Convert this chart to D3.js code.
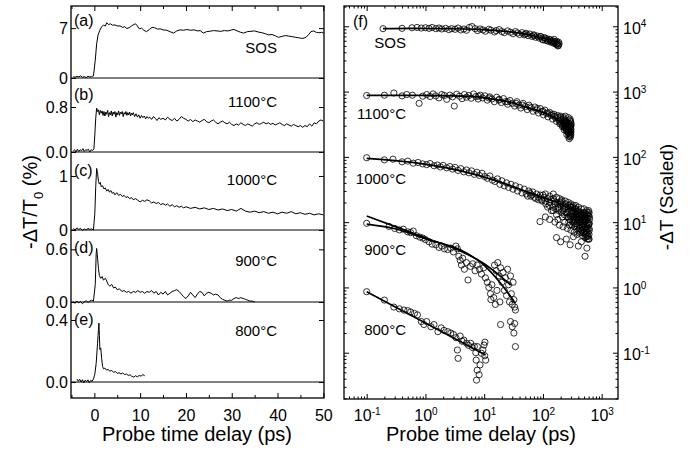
<!DOCTYPE html>
<html>
<head>
<meta charset="utf-8">
<script src="https://cdn.jsdelivr.net/npm/d3@7"></script>
<style>
body { margin: 0; background: #fff; }
svg { font-family: "Liberation Sans", Arial, sans-serif; }
</style>
</head>
<body>
<svg id="chart" width="694" height="453"></svg>
<script>
// ---- left panels: -dT/T0 (%) vs probe delay (ps), [t, value]
var sosTrace = [[-4.6,0.2],[-4.2,0.1],[-3.8,0.25],[-3.4,0.15],[-3,0.3],[-2.6,0.1],[-2.2,0.2],[-1.8,0.05],[-1.4,0.25],[-1,0.15],[-0.6,0.2],[-0.2,0.3],
  [0.2,2.5],[0.5,4.8],[0.8,6.0],[1.2,6.7],[1.6,7.2],[2.0,7.4],[2.4,7.3],[2.7,7.75],[3.1,7.5],[3.5,7.6],[4.0,7.4],[4.5,7.45],[5.0,7.3],[5.6,7.3],
  [6.2,7.1],[6.6,7.2],[7.1,6.95],[7.6,7.05],[8.1,7.3],[8.6,7.5],[9.0,7.6],[9.4,7.3],[9.8,6.9],[10.3,7.0],[10.8,6.7],[11.4,6.5],[12,6.8],[12.6,7.1],
  [13.2,7.05],[13.8,6.85],[14.4,6.9],[15,6.75],[15.8,6.7],[16.5,6.5],[17.3,6.3],[18,6.6],[18.7,6.75],[19.4,6.7],[20.2,6.8],[21,6.7],[21.8,6.75],
  [22.6,6.6],[23.1,6.65],[23.8,6.3],[24.5,6.5],[25.2,6.55],[26,6.65],[26.8,6.6],[27.6,6.55],[28.4,6.65],[29.2,6.6],[30,6.75],[30.5,6.8],[31.2,6.6],
  [32,6.4],[32.6,6.3],[33.4,6.5],[34.2,6.55],[35,6.6],[35.8,6.45],[36.6,6.35],[37.4,6.2],[38,6.05],[38.8,6.1],[39.6,5.9],[40.2,5.7],[41,5.85],
  [41.8,5.95],[42.4,5.88],[43.2,5.8],[44,5.7],[44.6,5.65],[45.3,5.55],[45.8,5.6],[46.3,5.75],[46.8,6.1],[47.3,6.5],[47.9,6.6],[48.5,6.4],[49,6.35],
  [49.6,6.4],[50.1,6.3]];
var trace1100 = [[-4.6,0.02],[-4.3,0.04],[-4,0.0],[-3.7,0.05],[-3.4,0.01],[-3.1,0.04],[-2.8,0.02],[-2.5,0.06],[-2.2,0.01],[-1.9,0.04],[-1.6,0.03],
  [-1.3,0.05],[-1.0,0.0],[-0.7,0.04],[-0.4,0.03],[-0.1,0.05],[0.1,0.3],[0.3,0.6],[0.5,0.78],[0.7,0.72],[0.9,0.75],[1.1,0.66],[1.3,0.74],[1.5,0.69],
  [1.7,0.73],[1.9,0.65],[2.1,0.72],[2.3,0.64],[2.5,0.71],[2.7,0.67],[2.9,0.74],[3.1,0.63],[3.3,0.7],[3.5,0.66],[3.7,0.73],[3.9,0.64],[4.1,0.71],
  [4.3,0.67],[4.5,0.72],[4.7,0.62],[4.9,0.7],[5.1,0.66],[5.3,0.73],[5.5,0.65],[5.7,0.71],[5.9,0.68],[6.1,0.72],[6.3,0.63],[6.5,0.7],[6.7,0.67],
  [6.9,0.72],[7.1,0.65],[7.3,0.7],[7.5,0.66],[7.7,0.71],[7.9,0.64],[8.1,0.69],[8.3,0.66],[8.5,0.7],[8.8,0.63],[9.1,0.68],[9.4,0.62],[9.7,0.66],
  [10,0.6],[10.3,0.65],[10.6,0.61],[10.9,0.64],[11.2,0.59],[11.5,0.63],[11.8,0.6],[12.1,0.62],[12.5,0.58],[12.9,0.63],[13.3,0.6],[13.7,0.56],
  [14.1,0.61],[14.5,0.58],[15,0.6],[15.5,0.57],[16,0.62],[16.5,0.58],[17,0.56],[17.5,0.6],[18,0.55],[18.5,0.58],[19,0.63],[19.5,0.6],[20,0.58],
  [20.5,0.55],[21,0.58],[21.5,0.54],[22,0.57],[22.5,0.55],[23,0.53],[23.5,0.56],[24,0.58],[24.5,0.54],[25,0.52],[25.5,0.55],[26,0.57],[26.5,0.53],
  [27,0.5],[27.5,0.53],[28,0.55],[28.5,0.52],[29,0.5],[29.5,0.53],[30,0.49],[30.5,0.47],[31,0.5],[31.5,0.48],[32,0.52],[32.5,0.49],[33,0.47],
  [33.5,0.5],[34,0.48],[34.5,0.46],[35,0.5],[35.5,0.52],[36,0.49],[36.5,0.51],[37,0.53],[37.5,0.5],[38,0.52],[38.5,0.49],[39,0.51],[39.5,0.48],
  [40,0.5],[40.5,0.52],[41,0.49],[41.5,0.47],[42,0.5],[42.5,0.48],[43,0.46],[43.5,0.49],[44,0.47],[44.5,0.45],[45,0.47],[45.5,0.44],[46,0.47],
  [46.5,0.45],[47,0.5],[47.5,0.46],[48,0.52],[48.5,0.5],[49,0.55],[49.5,0.57],[50,0.55]];
var trace1000 = [[-4.6,0.03],[-4.2,0.0],[-3.8,0.04],[-3.4,0.01],[-3.0,0.03],[-2.6,-0.01],[-2.2,0.02],[-1.8,0.0],[-1.4,0.03],[-1.0,0.01],[-0.6,0.02],
  [-0.2,0.0],[0.1,0.3],[0.3,0.8],[0.5,1.14],[0.7,1.05],[0.9,0.9],[1.1,0.85],[1.3,0.88],[1.5,0.8],[1.8,0.82],[2.1,0.76],[2.4,0.78],[2.7,0.72],[3.0,0.75],
  [3.3,0.7],[3.6,0.73],[3.9,0.68],[4.2,0.7],[4.5,0.65],[4.9,0.69],[5.3,0.64],[5.7,0.66],[6.1,0.62],[6.5,0.64],[6.9,0.6],[7.3,0.62],[7.7,0.58],
  [8.1,0.6],[8.5,0.56],[9,0.58],[9.5,0.55],[10,0.52],[10.5,0.55],[11,0.53],[11.5,0.56],[12,0.54],[12.5,0.5],[13,0.52],[13.5,0.49],[14,0.51],
  [14.5,0.47],[15,0.49],[15.5,0.46],[16,0.48],[16.5,0.44],[17,0.47],[17.5,0.43],[18,0.45],[18.5,0.42],[19,0.44],[19.5,0.41],[20,0.43],[21,0.4],
  [22,0.42],[23,0.39],[24,0.41],[25,0.38],[26,0.4],[27,0.37],[28,0.39],[29,0.36],[30,0.38],[31,0.35],[32,0.4],[33,0.35],[34,0.33],[35,0.35],
  [36,0.32],[37,0.34],[38,0.31],[39,0.33],[40,0.3],[41,0.33],[42,0.31],[43,0.34],[44,0.3],[45,0.32],[46,0.29],[47,0.31],[48,0.28],[49,0.3],[50,0.28]];
var trace900 = [[-4.6,0.0],[-4.2,-0.015],[-3.8,0.01],[-3.4,-0.01],[-3.0,0.005],[-2.6,-0.02],[-2.2,0.0],[-1.8,0.015],[-1.4,-0.005],[-1.0,0.01],
  [-0.6,0.02],[-0.2,0.01],[0.2,0.2],[0.4,0.55],[0.5,0.61],[0.7,0.5],[0.9,0.38],[1.1,0.3],[1.4,0.27],[1.7,0.29],[2.0,0.25],[2.4,0.27],[2.7,0.24],
  [3.0,0.2],[3.4,0.18],[3.8,0.2],[4.2,0.16],[4.6,0.17],[5.0,0.14],[5.5,0.15],[6.0,0.12],[6.5,0.13],[7.0,0.11],[7.5,0.12],[8.0,0.1],[8.5,0.12],
  [9,0.11],[9.5,0.13],[10,0.11],[10.5,0.12],[11,0.1],[11.5,0.12],[12,0.11],[12.5,0.13],[13,0.1],[13.5,0.12],[14,0.08],[14.5,0.11],[15,0.09],
  [15.5,0.12],[16,0.08],[16.5,0.1],[17,0.12],[17.5,0.13],[18,0.14],[18.5,0.12],[19,0.09],[19.5,0.06],[20,0.04],[20.5,0.07],[21,0.11],[21.5,0.08],
  [22,0.05],[22.5,0.09],[23,0.12],[23.5,0.11],[24,0.07],[24.5,0.1],[25,0.11],[25.5,0.1],[26,0.08],[26.5,0.09],[27,0.08],[27.5,0.05],[28,0.03],
  [28.5,0.02],[29,0.01],[29.5,0.02],[30,0.02],[30.5,0.04],[31,0.05],[31.5,0.04],[32,0.05],[32.5,0.04],[33,0.03],[33.5,0.02],[34,0.01],[34.5,0.01],[35,0.0]];
var trace800 = [[-3.8,0.02],[-3.5,0.005],[-3.2,0.018],[-2.9,0.0],[-2.6,0.015],[-2.3,-0.005],[-2.0,0.012],[-1.7,0.003],[-1.4,0.014],[-1.1,-0.004],
  [-0.8,0.01],[-0.5,0.005],[-0.2,0.02],[0.1,0.05],[0.4,0.12],[0.7,0.25],[0.9,0.34],[1.0,0.38],[1.1,0.3],[1.2,0.21],[1.4,0.22],[1.6,0.15],[1.8,0.1],
  [2.0,0.085],[2.3,0.09],[2.6,0.078],[3.0,0.08],[3.4,0.07],[3.8,0.075],[4.2,0.062],[4.6,0.068],[5.0,0.055],[5.4,0.06],[5.8,0.052],[6.2,0.058],
  [6.6,0.048],[7.0,0.052],[7.4,0.042],[7.8,0.047],[8.2,0.036],[8.6,0.032],[9.0,0.04],[9.4,0.034],[9.8,0.042],[10.2,0.038],[10.6,0.048],[11.0,0.04]];

var leftTraces = [sosTrace, trace1100, trace1000, trace900, trace800];
var panelMax = [10.1, 1.316, 1.444, 0.82, 0.516];
var panelMin = [0, 0, 0, 0, -0.103];
var leftTickVals = [[0, 7], [0, 0.8], [0, 1], [0, 0.6], [0, 0.4]];
var leftTickText = [["0", "7"], ["0.0", "0.8"], ["0", "1"], ["0.0", "0.6"], ["0.0", "0.4"]];
var panelTags = ["(a)", "(b)", "(c)", "(d)", "(e)"];
var seriesNames = ["SOS", "1100°C", "1000°C", "900°C", "800°C"];
var leftXTicks = [0, 10, 20, 30, 40, 50];
var leftXMinor = [-5, 5, 15, 25, 35, 45];

// ---- right panel: -dT (scaled), log-log, [t, value]
var sosPts = [[0.19,9200],[0.40,9300],[0.59,9500],[0.72,9600],[0.85,9400],[1.0,9500],[1.15,9300],[1.3,9600],[1.5,9200],[1.7,9400],[1.9,9100],
  [2.2,9300],[2.5,8900],[2.8,9200],[3.2,9000],[3.6,9400],[4.0,8800],[4.5,9100],[5.0,8700],[5.6,9600],[6.2,9900],[7.0,9200],[7.7,8600],[8.5,9100],
  [9.5,8800],[10.5,8400],[12,9000],[13,8700],[15,8200],[16,8600],[18,8900],[20,8300],[22,8000],[25,8500],[28,8100],[31,7700],[34,8300],[37,7900],
  [40,7500],[44,8000],[48,7400],[52,7800],[56,7200],[60,7600],[65,7000],[70,7400],[75,6800],[80,7100],[86,6600],[92,6900],[98,6300],[104,6700],
  [110,6100],[117,6400],[124,5900],[131,6200],[138,5700],[145,6000],[152,5500],[160,5800],[168,5300],[176,5600],[184,5100],[188,5400],[180,5000],
  [170,5900],[155,6300],[100,6200],[120,6000],[140,5800],[160,5500],[175,5200],[185,5700],[170,5400],[150,5900],[130,6300],[110,6600],[90,7000],
  [70,7200],[50,7600]];
var pts1100 = [[0.1,870],[0.2,880],[0.29,950],[0.4,860],[0.48,900],[0.6,880],[0.78,660],[0.9,850],[1.05,900],[1.2,840],[1.35,920],[1.5,860],
  [1.7,800],[1.9,900],[2.1,870],[2.3,760],[2.6,880],[2.9,830],[3.1,600],[3.4,910],[3.8,850],[4.2,780],[4.6,900],[5.0,820],[5.5,870],[6.0,790],
  [6.6,920],[7.2,840],[7.9,770],[8.6,880],[9.4,800],[10.3,860],[11.3,740],[12.4,830],[13.6,770],[14.9,700],[16.3,820],[17.8,740],[19.5,680],
  [21.3,780],[23,700],[25,640],[27.5,730],[30,660],[33,600],[36,700],[39,620],[42,560],[46,660],[50,590],[54,530],[58,620],[63,560],[68,500],
  [73,580],[78,520],[84,470],[90,550],[96,490],[102,440],[108,520],[115,460],[122,410],[130,480],[138,430],[146,380],[154,450],[162,400],[170,350],
  [178,430],[186,370],[194,320],[202,400],[210,340],[218,300],[226,380],[234,320],[242,280],[250,350],[258,300],[266,260],[274,330],[282,280],
  [290,240],[296,300],[300,260],[298,220],[292,200],[285,250],[270,230],[280,190],[260,280],[250,250],[240,300],[230,260],[300,330],[296,350],
  [288,360],[240,420],[270,400],[290,380],[180,400],[190,350],[200,330],[205,370],[215,290],[222,340],[228,310],[236,360],[244,300],[248,270],
  [255,330],[262,290],[268,240],[272,300],[276,260],[284,310],[288,230],[294,270],[298,290],[300,240],[302,310],[295,210],[285,215],[275,205],
  [265,250],[255,220],[245,350],[235,280],[225,400],[200,420],[160,420],[140,450],[120,470],[100,500],[80,550],[60,580],[45,620],[35,660],
  [25,700],[18,760],[12,800],[8,850]];
var pts1000 = [[0.1,97],[0.2,90],[0.28,92],[0.4,84],[0.5,86],[0.62,80],[0.75,82],[0.9,78],[1.05,76],[1.2,79],[1.4,73],[1.6,75],[1.8,70],[2.0,74],
  [2.3,68],[2.6,71],[2.9,65],[3.2,69],[3.6,62],[4.0,66],[4.5,59],[5.0,63],[5.5,57],[6.1,61],[6.8,54],[7.5,58],[8.3,52],[9.2,56],[10.2,50],[11.3,47],
  [12.5,51],[13.8,44],[15.2,42],[16.8,46],[18.5,38],[20,43],[22,36],[24,40],[26,34],[28.5,38],[31,32],[34,36],[37,30],[40,34],[44,28],[48,32],
  [52,27],[57,30],[62,25],[67,29],[72,24],[78,27],[84,22],[90,26],[97,21],[104,24],[112,19],[120,23],[128,18],[137,22],[146,17],[155,21],[165,16],
  [175,20],[185,15],[196,19],[208,14],[220,18],[232,13],[245,17],[258,12],[272,16],[286,11],[300,15],[315,10.5],[330,14],[346,9.5],[362,13],
  [380,8.8],[398,12],[416,8],[435,11.5],[455,7.5],[475,10.5],[495,7],[515,10],[535,6.5],[555,9.5],[575,6],[595,9],[610,8],[620,11],[600,12.5],
  [580,14],[560,13],[540,11],[520,13.5],[500,12],[480,14],[460,9],[440,13],[420,10],[400,15],[380,11],[360,16],[340,12],[320,17],[300,12],[280,18],
  [260,14],[240,19],[220,15],[200,20],[180,17],[150,23],[120,17],[100,26],[89,10.2],[170,5.8],[200,5],[250,5.5],[290,4.5],[330,6],[400,4.3],
  [450,5],[520,3.0],[560,4],[600,5.5],[150,15],[160,19],[170,13],[190,16],[205,21],[215,12],[230,16],[250,14],[265,18],[275,10],[290,13],
  [305,17],[310,9],[325,12],[335,15],[350,11],[355,14],[370,9.5],[375,13],[390,10.5],[405,13.5],[410,9],[425,12],[430,8],[445,10],[450,13],
  [465,8.5],[470,11],[485,9.5],[490,12.5],[505,8],[510,11],[525,9],[530,12],[545,7.5],[550,10.5],[565,8.5],[570,11.5],[585,7],[590,10],
  [605,9.5],[615,7.5],[618,12],[608,6.5],[590,13],[570,8],[550,7],[530,8],[510,14],[490,9],[470,7.5],[450,11.5],[430,14],[410,11],[390,14.5],
  [370,12],[350,16],[330,10],[310,13.5],[290,17],[270,12],[130,20],[110,21],[140,15],[95,22],[85,24],[75,23],[65,26],[60,28],[55,25],
  [110,27],[130,25],[150,27],[170,24],[190,23],[210,22],[240,21],[270,20],[300,19],[330,18],[360,18],[400,17],[450,16],[500,16],[550,15],[600,15],
  [110,12],[130,11],[160,10],[190,9],[220,8.5],[260,8],[300,7.5],[340,7],[380,6.5],[420,6.8],[470,6.2],[520,5.8],[570,5.5],[610,5.5],
  [180,11],[235,10],[285,9],[345,8.5],[395,7.5],[440,7],[495,6.8],[540,6],[585,6.2],[615,9.5],[612,14]];
var pts900 = [[0.1,9.6],[0.24,8.6],[0.3,8.0],[0.36,7.6],[0.42,7.8],[0.5,7.1],[0.56,6.9],[0.62,7.3],[0.7,6.2],[0.8,5.9],[0.9,5.7],[1.0,5.4],
  [1.15,5.0],[1.3,4.6],[1.5,4.5],[1.7,4.1],[1.9,4.3],[2.1,3.9],[2.4,3.8],[2.7,4.0],[3.0,3.5],[3.3,4.3],[3.5,3.9],[3.7,3.0],[3.9,2.6],[4.1,2.2],
  [4.3,2.8],[4.6,1.9],[5.0,2.4],[5.3,1.3],[5.8,2.1],[6.4,2.3],[7.0,1.8],[7.6,2.2],[8.3,1.9],[9.0,1.6],[9.8,2.0],[10.5,1.4],[11.3,1.2],[12,1.0],
  [12.8,0.8],[13.5,1.1],[14.5,0.7],[15,2.2],[16,1.8],[17,2.4],[18,1.5],[19,2.0],[20,1.2],[21,1.7],[22,0.9],[23,1.4],[24,0.75],[25,1.9],[26,1.1],
  [27,0.6],[28,1.5],[29,0.8],[30,0.55],[31,1.2],[32,0.65],[33,0.5],[34,0.45],[18.5,0.6],[16.5,0.9],[19,0.27],[28,0.3],[30,0.25],[32,0.2],
  [33,0.28],[34,0.124],[15.5,0.55],[13,0.65]];
var pts800 = [[0.1,0.86],[0.2,0.64],[0.29,0.5],[0.36,0.47],[0.43,0.45],[0.5,0.44],[0.56,0.42],[0.65,0.40],[0.73,0.38],[0.85,0.30],[0.94,0.27],
  [1.05,0.30],[1.24,0.25],[1.4,0.27],[1.63,0.21],[1.85,0.24],[2.07,0.22],[2.4,0.21],[2.7,0.20],[3.0,0.19],[3.3,0.17],[3.5,0.11],[3.6,0.082],
  [3.9,0.18],[4.2,0.15],[4.5,0.156],[5.0,0.14],[5.4,0.13],[5.9,0.139],[6.3,0.12],[6.8,0.125],[7.2,0.10],[7.64,0.124],[7.3,0.077],[7.6,0.054],
  [7.4,0.038],[8.2,0.046],[8.5,0.065],[9.0,0.098],[9.5,0.11],[9.93,0.131],[10.3,0.145],[10.6,0.077],[10.2,0.09]];

var fitSos = [[0.19,9200],[0.56,9300],[2.07,9200],[7.6,9000],[28,8200],[54,7500],[104,6500],[188,5500]];
var fit1100 = [[0.1,877],[0.5,877],[2.07,870],[7.6,830],[14.7,760],[30,680],[54,567],[104,475],[154,398],[220,316],[296,258]];
var fit1000 = [[0.1,95],[0.56,83],[4,61],[14.7,44],[54,29],[200,19],[608,11.9]];
var fit900a = [[0.1,9.35],[0.29,8.0],[1.08,5.45],[4.0,3.74],[9.9,2.2],[19,1.16],[34,0.57]];
var fit900b = [[0.1,12.4],[0.3,8.6],[1.08,5.6],[4,3.6],[10,2.3],[28.2,1.09]];
var fit800 = [[0.1,0.86],[1.0,0.285],[10.6,0.092]];

var rightPts = [sosPts, pts1100, pts1000, pts900, pts800];
var rightFits = [fitSos, fit1100, fit1000, fit900a, fit900b, fit800];
var rightXTicks = [0.1, 1, 10, 100, 1000];
var rightYTicks = [0.1, 1, 10, 100, 1000, 10000];

var svg = d3.select('#chart');
var FONT = '"Liberation Sans", Arial, sans-serif';

function minorLog(lo, hi) {
	var out = [];
	for (var e = Math.floor(Math.log10(lo)); e <= Math.ceil(Math.log10(hi)); e++) {
		for (var m = 2; m <= 9; m++) {
			var v = m * Math.pow(10, e);
			if (v > lo && v < hi) out.push(v);
		}
	}
	return out;
}

function styleAxis(g, size) {
	g.attr('font-family', FONT).attr('font-size', size);
	g.select('.domain').remove();
	g.selectAll('.tick line').attr('stroke', '#000').attr('stroke-width', 1);
	g.selectAll('.tick text').attr('fill', '#000');
}

function supLabels(g) {
	g.selectAll('.tick text').each(function(d) {
		var t = d3.select(this);
		t.text('10');
		t.append('tspan').attr('dy', '-0.65em').attr('font-size', 10).text(Math.round(Math.log10(d)));
	});
}

// ================= left =================
var L = {x0: 71, x1: 324, y0: 6, y1: 398};
var rows = [[6, 78], [78, 152], [152, 230], [230, 302], [302, 398]];
var tagY = [26, 100, 176, 253, 325];
var nameY = [53, 107, 185, 266, 336];

var x = d3.scaleLinear().domain([-5.1, 50.15]).range([L.x0, L.x1]);

rows.forEach(function(r, i) {
	var y = d3.scaleLinear().domain([panelMin[i], panelMax[i]]).range([r[1], r[0]]);
	var g = svg.append('g');

	g.append('line').attr('x1', L.x0).attr('x2', L.x1).attr('y1', y(0)).attr('y2', y(0))
		.attr('stroke', '#000').attr('stroke-width', 1);

	g.append('path').datum(leftTraces[i])
		.attr('fill', 'none').attr('stroke', '#000').attr('stroke-width', 1)
		.attr('d', d3.line().x(d => x(d[0])).y(d => y(d[1])));

	var ay = g.append('g').attr('transform', 'translate(' + L.x0 + ',0)')
		.call(d3.axisLeft(y).tickValues(leftTickVals[i]).tickSize(-5).tickPadding(3)
			.tickFormat((d, j) => leftTickText[i][j]));
	styleAxis(ay, 16);
	var ay2 = g.append('g').attr('transform', 'translate(' + L.x1 + ',0)')
		.call(d3.axisRight(y).tickValues(leftTickVals[i]).tickSize(-5).tickFormat(''));
	styleAxis(ay2, 16);

	g.append('text').attr('x', 74).attr('y', tagY[i]).attr('font-size', 16).text(panelTags[i]);
	g.append('text').attr('x', 277).attr('y', nameY[i]).attr('font-size', 15)
		.attr('text-anchor', 'end').text(seriesNames[i]);
});

var axb = svg.append('g').attr('transform', 'translate(0,' + L.y1 + ')')
	.call(d3.axisBottom(x).tickValues(leftXTicks).tickSize(-5).tickPadding(12));
styleAxis(axb, 16);
var axbm = svg.append('g').attr('transform', 'translate(0,' + L.y1 + ')')
	.call(d3.axisBottom(x).tickValues(leftXMinor).tickSize(-3).tickFormat(''));
styleAxis(axbm, 16);
var axt = svg.append('g').attr('transform', 'translate(0,' + L.y0 + ')')
	.call(d3.axisTop(x).tickValues(leftXTicks).tickSize(-5).tickFormat(''));
styleAxis(axt, 16);
var axtm = svg.append('g').attr('transform', 'translate(0,' + L.y0 + ')')
	.call(d3.axisTop(x).tickValues(leftXMinor).tickSize(-3).tickFormat(''));
styleAxis(axtm, 16);

svg.append('rect').attr('x', L.x0).attr('y', L.y0).attr('width', L.x1 - L.x0).attr('height', L.y1 - L.y0)
	.attr('fill', 'none').attr('stroke', '#000').attr('stroke-width', 1.3);

svg.append('text').attr('x', 197).attr('y', 441).attr('font-size', 20).attr('text-anchor', 'middle')
	.text('Probe time delay (ps)');

var ylab = svg.append('text').attr('transform', 'translate(37,202) rotate(-90)')
	.attr('font-size', 20).attr('text-anchor', 'middle');
ylab.append('tspan').text('-ΔT/T');
ylab.append('tspan').attr('font-size', 13).attr('dy', '0.45em').text('0');
ylab.append('tspan').attr('dy', '-0.3em').text(' (%)');

// ================= right =================
var R = {x0: 344, x1: 618, y0: 6, y1: 399};
var xr = d3.scaleLog().domain([0.0411, 1894]).range([R.x0, R.x1]);
var yr = d3.scaleLog().domain([0.01954, 20460]).range([R.y1, R.y0]);

var xMinor = minorLog(0.0411, 1894);
var yMinor = minorLog(0.01954, 20460);

function tickPair(axisFn, scale, major, minor, tr, labels) {
	var a = svg.append('g').attr('transform', tr)
		.call(axisFn(scale).tickValues(minor).tickSize(-2.5).tickFormat(''));
	styleAxis(a, 16);
	var b = svg.append('g').attr('transform', tr)
		.call(axisFn(scale).tickValues(major).tickSize(-5).tickPadding(labels ? labels : 0)
			.tickFormat(labels ? d3.format('') : ''));
	styleAxis(b, 16);
	if (labels) supLabels(b);
	return b;
}

tickPair(d3.axisBottom, xr, rightXTicks, xMinor, 'translate(0,' + R.y1 + ')', 11);
tickPair(d3.axisTop, xr, rightXTicks, xMinor, 'translate(0,' + R.y0 + ')', 0);
tickPair(d3.axisLeft, yr, rightYTicks, yMinor, 'translate(' + R.x0 + ',0)', 0);
var yRight = tickPair(d3.axisRight, yr, rightYTicks, yMinor, 'translate(' + R.x1 + ',0)', 5);
yRight.selectAll('.tick text').attr('dy', '0.45em');

var pg = svg.append('g');
rightPts.forEach(function(set) {
	pg.selectAll(null).data(set).enter().append('circle')
		.attr('cx', d => xr(d[0])).attr('cy', d => yr(d[1])).attr('r', 3.1)
		.attr('fill', 'none').attr('stroke', '#000').attr('stroke-width', 0.8);
});

var fitLine = d3.line().x(d => xr(d[0])).y(d => yr(d[1])).curve(d3.curveMonotoneX);
rightFits.forEach(function(f) {
	svg.append('path').datum(f).attr('d', fitLine)
		.attr('fill', 'none').attr('stroke', '#000').attr('stroke-width', 1.7);
});

svg.append('rect').attr('x', R.x0).attr('y', R.y0).attr('width', R.x1 - R.x0).attr('height', R.y1 - R.y0)
	.attr('fill', 'none').attr('stroke', '#000').attr('stroke-width', 1.3);

svg.append('text').attr('x', 353).attr('y', 27).attr('font-size', 16).text('(f)');
var rNameY = [48, 119, 184, 255, 335];
seriesNames.forEach(function(n, i) {
	svg.append('text').attr('x', 406).attr('y', rNameY[i]).attr('font-size', 15)
		.attr('text-anchor', 'end').text(n);
});

svg.append('text').attr('x', 481).attr('y', 441).attr('font-size', 20).attr('text-anchor', 'middle')
	.text('Probe time delay (ps)');
svg.append('text').attr('transform', 'translate(673,197) rotate(-90)')
	.attr('font-size', 19).attr('text-anchor', 'middle').text('-ΔT (Scaled)');
</script>
</body>
</html>
